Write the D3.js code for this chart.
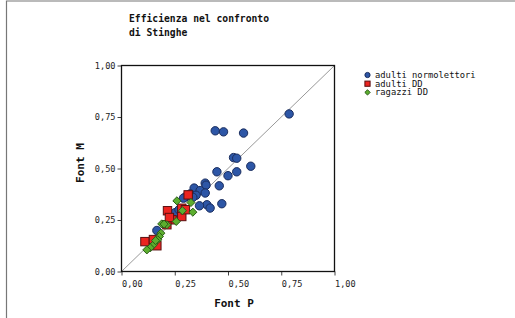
<!DOCTYPE html>
<html>
<head>
<meta charset="utf-8">
<script src="https://cdn.jsdelivr.net/npm/d3@7"></script>
<style>
  body { margin: 0; background: #fff; }
  text { font-family: "DejaVu Sans Mono", monospace; }
</style>
</head>
<body>
<div id="chart"></div>
<script>
// adulti normolettori  [Font P, Font M]
const normolettori = [
  [0.787, 0.765], [0.44, 0.683], [0.479, 0.678], [0.573, 0.672],
  [0.526, 0.553], [0.541, 0.55], [0.607, 0.511], [0.448, 0.484],
  [0.541, 0.484], [0.5, 0.465], [0.459, 0.416], [0.393, 0.429],
  [0.397, 0.419], [0.341, 0.405], [0.369, 0.393], [0.393, 0.381],
  [0.323, 0.377], [0.35, 0.37], [0.30, 0.362], [0.291, 0.356],
  [0.471, 0.329], [0.401, 0.324], [0.416, 0.308], [0.366, 0.319],
  [0.252, 0.286], [0.166, 0.199], [0.27, 0.30], [0.335, 0.36]
]
// adulti DD
const adultiDD = [
  [0.313, 0.372], [0.216, 0.295], [0.283, 0.307], [0.283, 0.267],
  [0.237, 0.251], [0.213, 0.227], [0.11, 0.145], [0.15, 0.155],
  [0.166, 0.125], [0.30, 0.30], [0.225, 0.262]
]
// ragazzi DD
const ragazziDD = [
  [0.26, 0.343], [0.326, 0.335], [0.286, 0.295], [0.335, 0.288],
  [0.257, 0.243], [0.213, 0.227], [0.189, 0.231], [0.185, 0.186],
  [0.178, 0.17], [0.17, 0.154], [0.15, 0.13], [0.135, 0.115],
  [0.119, 0.105], [0.2, 0.23], [0.16, 0.15]
]
const ticks = [0, 0.25, 0.5, 0.75, 1]
const legendLabels = ['adulti normolettori', 'adulti DD', 'ragazzi DD']

const width = 515, height = 318
const svg = d3.select('#chart').append('svg')
  .attr('width', width).attr('height', height)

// outer frame
svg.append('path')
  .attr('d', `M6.5,${height} V1 H${width}`)
  .attr('fill', 'none').attr('stroke', '#777').attr('stroke-width', 1.2)

const x = d3.scaleLinear().domain([0, 1]).range([121.5, 334.5])
const y = d3.scaleLinear().domain([0, 1]).range([271.5, 65.5])
const fmt = d => d3.format('.2f')(d).replace('.', ',')

// title
svg.append('text').attr('x', 129).attr('y', 22)
  .attr('font-size', 9.7).attr('font-weight', 'bold').attr('fill', '#111')
  .selectAll('tspan').data(['Efficienza nel confronto', 'di Stinghe']).join('tspan')
  .attr('x', 129).attr('dy', (d, i) => i ? 14 : 0).text(d => d)

const xAxis = svg.append('g').attr('transform', `translate(0,${y(0)})`)
  .call(d3.axisBottom(x).tickValues(ticks).tickFormat(fmt).tickSize(4).tickPadding(5))
const yAxis = svg.append('g').attr('transform', `translate(${x(0)},0)`)
  .call(d3.axisLeft(y).tickValues(ticks).tickFormat(fmt).tickSize(4).tickPadding(2))
for (const ax of [xAxis, yAxis]) {
  ax.select('.domain').remove()
  ax.selectAll('text').attr('font-size', 8.6).attr('fill', '#222')
  ax.selectAll('line').attr('stroke', '#444')
}
// x labels sit to the right of their tick
xAxis.selectAll('text').attr('text-anchor', 'start').attr('x', 0)

// diagonal
svg.append('line')
  .attr('x1', x(0)).attr('y1', y(0)).attr('x2', x(1)).attr('y2', y(1))
  .attr('stroke', '#999').attr('stroke-width', 1)

// points
svg.append('g').selectAll('circle').data(normolettori).join('circle')
  .attr('cx', d => x(d[0])).attr('cy', d => y(d[1])).attr('r', 4.2)
  .attr('fill', '#2d56a6').attr('stroke', '#1a2d5e').attr('stroke-width', 1)

svg.append('g').selectAll('rect').data(adultiDD).join('rect')
  .attr('x', d => x(d[0]) - 4.2).attr('y', d => y(d[1]) - 4.2)
  .attr('width', 8.4).attr('height', 8.4)
  .attr('fill', '#ec2420').attr('stroke', '#5a1010').attr('stroke-width', 1)

const diamond = d3.symbol().type(d3.symbolDiamond2).size(42)
svg.append('g').selectAll('path').data(ragazziDD).join('path')
  .attr('d', diamond)
  .attr('transform', d => `translate(${x(d[0])},${y(d[1])})`)
  .attr('fill', '#5cae2e').attr('stroke', '#2b5c18').attr('stroke-width', 1)

// plot frame
svg.append('rect').attr('x', x(0)).attr('y', y(1))
  .attr('width', x(1) - x(0)).attr('height', y(0) - y(1))
  .attr('fill', 'none').attr('stroke', '#111').attr('stroke-width', 1.3)

// axis titles
svg.append('text').attr('x', 234).attr('y', 307)
  .attr('text-anchor', 'middle').attr('font-size', 11).attr('font-weight', 'bold')
  .attr('fill', '#111').text('Font P')
svg.append('text').attr('transform', 'translate(84,163) rotate(-90)')
  .attr('text-anchor', 'middle').attr('font-size', 11).attr('font-weight', 'bold')
  .attr('fill', '#111').text('Font M')

// legend
const legend = svg.append('g').attr('transform', 'translate(367.5,75)')
const items = legend.selectAll('g').data(legendLabels).join('g')
  .attr('transform', (d, i) => `translate(0,${i * 8.7})`)
items.append('text').attr('x', 7.5).attr('y', 3).attr('font-size', 8.8).attr('fill', '#111').text(d => d)
items.filter((d, i) => i === 0).append('circle').attr('r', 2.6)
  .attr('fill', '#2d56a6').attr('stroke', '#1a2d5e')
items.filter((d, i) => i === 1).append('rect').attr('x', -2.6).attr('y', -2.6)
  .attr('width', 5.2).attr('height', 5.2).attr('fill', '#ec2420').attr('stroke', '#5a1010')
items.filter((d, i) => i === 2).append('path').attr('d', d3.symbol().type(d3.symbolDiamond2).size(18))
  .attr('fill', '#5cae2e').attr('stroke', '#2b5c18')
</script>
</body>
</html>
